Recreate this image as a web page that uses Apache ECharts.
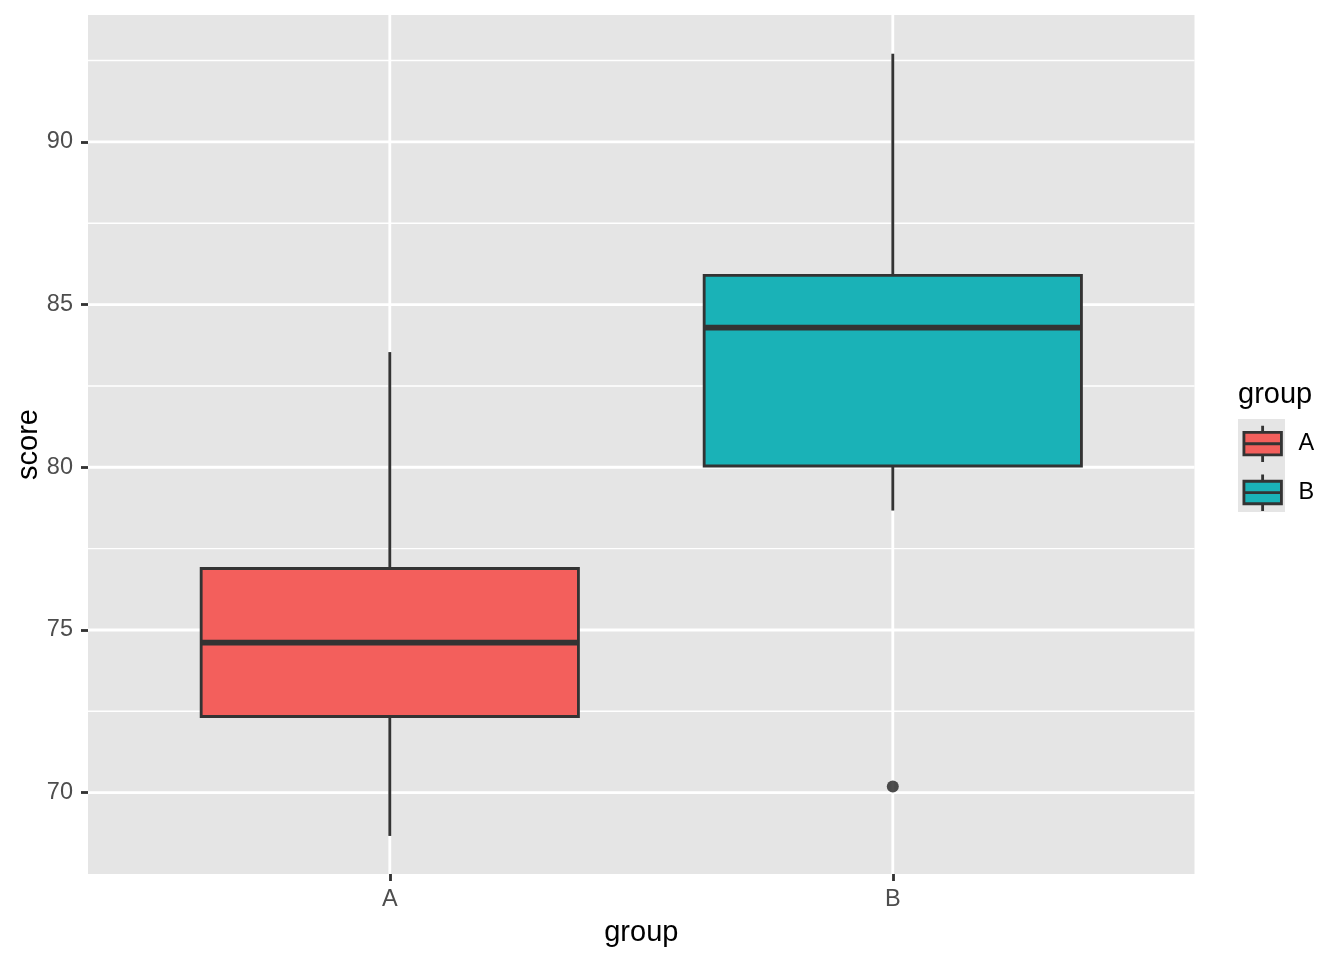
<!DOCTYPE html>
<html>
<head>
<meta charset="utf-8">
<script src="https://cdn.jsdelivr.net/npm/echarts@6/dist/echarts.min.js"></script>
<style>
  html, body { margin: 0; padding: 0; background: #ffffff; }
  #chart { width: 1344px; height: 960px; }
</style>
</head>
<body>
<div id="chart"></div>
<script>
// ---- data ----
const categories    = ['A', 'B'];
const lowerWhisker  = [68.67, 78.67];
const q1            = [72.34, 80.04];
const median        = [74.61, 84.29];
const q3            = [76.89, 85.90];
const upperWhisker  = [83.54, 92.71];
const outliers      = [['B', 70.19]];
const yMajorTicks   = [70, 75, 80, 85, 90];
const yMinorTicks   = [72.5, 77.5, 82.5, 87.5, 92.5];
const yMin = 67.5, yMax = 93.9;

// ---- styles ----
const fills = ['#F35F5C', '#1AB2B7'];
const lineCol = '#333333';
const lw = 2.84;
const font = 'Liberation Sans, Arial, Helvetica, sans-serif';

const chart = echarts.init(document.getElementById('chart'), null, { renderer: 'canvas' });

function boxRender(params, api) {
  const x = api.value(0);
  const pLo = api.coord([x, api.value(1)]);
  const pQ1 = api.coord([x, api.value(2)]);
  const pMed = api.coord([x, api.value(3)]);
  const pQ3 = api.coord([x, api.value(4)]);
  const pHi = api.coord([x, api.value(5)]);
  const half = api.size([1, 0])[0] * 0.75 / 2;
  const cx = pMed[0];
  return {
    type: 'group',
    children: [
      { type: 'line', shape: { x1: cx, y1: pHi[1], x2: cx, y2: pQ3[1] }, style: { stroke: lineCol, lineWidth: lw } },
      { type: 'line', shape: { x1: cx, y1: pQ1[1], x2: cx, y2: pLo[1] }, style: { stroke: lineCol, lineWidth: lw } },
      { type: 'rect', shape: { x: cx - half, y: pQ3[1], width: 2 * half, height: pQ1[1] - pQ3[1] },
        style: { fill: api.visual('color'), stroke: lineCol, lineWidth: lw } },
      { type: 'line', shape: { x1: cx - half, y1: pMed[1], x2: cx + half, y2: pMed[1] }, style: { stroke: lineCol, lineWidth: lw * 2 } }
    ]
  };
}

const boxSeries = categories.map((c, i) => ({
  name: c,
  type: 'custom',
  coordinateSystem: 'cartesian2d',
  xAxisIndex: 1,
  yAxisIndex: 1,
  z: 3,
  silent: true,
  itemStyle: { color: fills[i] },
  encode: { x: 0, y: [1, 2, 3, 4, 5] },
  data: [[i, lowerWhisker[i], q1[i], median[i], q3[i], upperWhisker[i]]],
  renderItem: boxRender
}));

const option = {
  animation: false,
  backgroundColor: '#ffffff',
  textStyle: { fontFamily: font },
  title: [{
    text: 'group',
    left: 1238,
    top: 380,
    padding: 0,
    textStyle: { fontFamily: font, fontSize: 29, fontWeight: 'normal', color: '#000000' }
  }],
  graphic: [{
    type: 'rect',
    left: 1238, top: 419,
    shape: { width: 47, height: 93 },
    style: { fill: '#E5E5E5' },
    z: -1, silent: true
  }],
  legend: {
    data: categories,
    orient: 'vertical',
    left: 1242.5,
    top: 424.3,
    padding: 0,
    itemWidth: 37.5,
    itemHeight: 36.4,
    itemGap: 9.6,
    selectedMode: false,
    icon: 'path://M0,67 L375,67 L375,292 L0,292 Z M0,180 L375,180 M187,0 L187,67 M187,292 L187,364',
    itemStyle: { borderColor: lineCol, borderWidth: lw },
    textStyle: { fontFamily: font, fontSize: 23.5, color: '#000000', padding: [4, 0, 0, 12] }
  },
  grid: [
    { left: 88, right: 149.5, top: 15, bottom: 86, show: true, backgroundColor: '#E5E5E5', borderWidth: 0 },
    { left: 138.3, right: 199.7, top: 15, bottom: 86, show: false }
  ],
  xAxis: [
    { type: 'value', gridIndex: 0, min: 0, max: 1, show: false },
    {
      type: 'category', gridIndex: 1, data: categories, boundaryGap: true,
      axisLine: { show: false },
      axisTick: { show: true, alignWithLabel: true, length: 7, lineStyle: { color: lineCol, width: lw } },
      axisLabel: { fontFamily: font, fontSize: 23.5, color: '#4D4D4D', margin: 14 },
      splitLine: { show: false },
      name: 'group', nameLocation: 'middle', nameGap: 44, nameMoveOverlap: false,
      nameTextStyle: { fontFamily: font, fontSize: 29, color: '#000000' }
    }
  ],
  yAxis: [
    {
      type: 'value', gridIndex: 0, min: yMin, max: yMax,
      axisLine: { show: false },
      axisTick: { show: true, customValues: yMajorTicks, length: 7, lineStyle: { color: lineCol, width: lw } },
      axisLabel: { customValues: yMajorTicks, fontFamily: font, fontSize: 23.5, color: '#4D4D4D', margin: 15 },
      splitLine: { show: false },
      name: 'score', nameLocation: 'middle', nameGap: 45, nameRotate: 90, nameMoveOverlap: false,
      nameTextStyle: { fontFamily: font, fontSize: 29, color: '#000000' }
    },
    { type: 'value', gridIndex: 1, min: yMin, max: yMax, show: false, splitLine: { show: false } }
  ],
  series: [
    {
      name: 'hgrid',
      type: 'custom',
      coordinateSystem: 'cartesian2d',
      xAxisIndex: 0, yAxisIndex: 0,
      z: 1, silent: true,
      data: yMajorTicks.map(v => [0, v, 1]).concat(yMinorTicks.map(v => [0, v, 0])),
      renderItem: function (params, api) {
        const y = api.coord([0, api.value(1)])[1];
        const cs = params.coordSys;
        return {
          type: 'line',
          shape: { x1: cs.x, y1: y, x2: cs.x + cs.width, y2: y },
          style: { stroke: '#ffffff', lineWidth: api.value(2) ? lw : lw / 2 }
        };
      }
    },
    {
      name: 'vgrid',
      type: 'custom',
      coordinateSystem: 'cartesian2d',
      xAxisIndex: 1, yAxisIndex: 1,
      z: 1, silent: true,
      data: categories.map((c, i) => [i, yMin]),
      renderItem: function (params, api) {
        const x = api.coord([api.value(0), yMin])[0];
        const cs = params.coordSys;
        return {
          type: 'line',
          shape: { x1: x, y1: cs.y, x2: x, y2: cs.y + cs.height },
          style: { stroke: '#ffffff', lineWidth: lw }
        };
      }
    },
    ...boxSeries,
    {
      name: 'outliers',
      type: 'scatter',
      xAxisIndex: 1, yAxisIndex: 1,
      z: 4, silent: true,
      symbol: 'circle',
      symbolSize: 12,
      itemStyle: { color: '#222222' },
      data: outliers
    }
  ]
};

chart.setOption(option);
</script>
</body>
</html>
